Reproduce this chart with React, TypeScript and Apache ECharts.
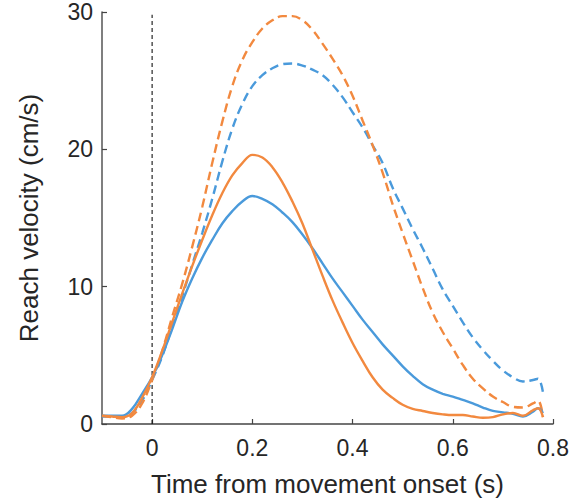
import React, { useEffect, useRef } from "react";
import * as echarts from "echarts";

const time = [
  -0.1, -0.08, -0.06, -0.04, -0.02, 0.0, 0.02, 0.04, 0.06, 0.08, 0.1, 0.12, 0.14, 0.16, 0.18, 0.2,
  0.22, 0.24, 0.26, 0.28, 0.3, 0.32, 0.34, 0.36, 0.38, 0.4, 0.42, 0.44, 0.46, 0.48, 0.5, 0.52,
  0.54, 0.56, 0.58, 0.6, 0.62, 0.64, 0.66, 0.68, 0.7, 0.72, 0.74, 0.76, 0.77, 0.78,
];

const blueSolid = [
  0.6, 0.6, 0.6, 1.1, 2.2, 3.4, 5.0, 6.9, 8.9, 10.6, 12.1, 13.4, 14.6, 15.5, 16.2, 16.6,
  16.4, 16.0, 15.4, 14.7, 13.8, 12.8, 11.7, 10.6, 9.6, 8.6, 7.6, 6.7, 5.8, 5.0, 4.2, 3.5,
  2.9, 2.5, 2.2, 2.0, 1.75, 1.5, 1.2, 0.95, 0.85, 0.75, 0.55, 0.9, 1.15, 0.8,
];

const orangeSolid = [
  0.6, 0.55, 0.5, 0.8, 1.9, 3.4, 5.3, 7.4, 9.5, 11.5, 13.4, 15.2, 16.8, 18.1, 19.0, 19.6,
  19.4, 18.7, 17.6, 16.2, 14.6, 12.7, 10.8, 9.0, 7.4, 5.9, 4.6, 3.4, 2.5, 1.9, 1.4, 1.1,
  0.95, 0.8, 0.7, 0.65, 0.65, 0.55, 0.45, 0.5, 0.7, 0.8, 0.6, 1.0, 1.15, 0.5,
];

const blueDashed = [
  0.55, 0.55, 0.5, 0.8, 1.7, 3.2, 4.9, 7.1, 9.3, 11.6, 13.9, 16.4, 19.1, 21.5, 23.3, 24.6,
  25.4, 25.9, 26.2, 26.25, 26.1, 25.8, 25.4, 24.7, 23.8, 22.7, 21.6, 20.3, 19.0, 17.2, 15.7, 14.2,
  12.8, 11.3, 9.8, 8.6, 7.4, 6.3, 5.4, 4.6, 3.9, 3.4, 3.1, 3.2, 3.3, 2.3,
];

const orangeDashed = [
  0.6, 0.5, 0.4, 0.6, 1.5, 3.2, 5.3, 7.8, 10.2, 12.9, 15.8, 19.0, 22.0, 24.6, 26.5, 27.8,
  28.8, 29.4, 29.7, 29.7, 29.4, 28.7, 27.7, 26.6, 25.4, 23.9, 22.1, 20.3, 18.3, 16.0, 13.9, 11.9,
  9.9, 8.1, 6.7, 5.5, 4.3, 3.3, 2.6, 2.0, 1.6, 1.25, 1.2, 1.5, 1.7, 0.5,
];

const onsetLine = [
  [0, 0],
  [0, 29.8],
];

const xTicks = [0, 0.2, 0.4, 0.6, 0.8];

const BLUE = "#4A9ADB";
const ORANGE = "#F2893F";
const AXIS = "#444444";
const TEXT = "#262626";
const FONT = "'Liberation Sans', Arial, Helvetica, sans-serif";

const pairs = (ys: number[]) => time.map((t, i) => [t, ys[i]]);

export default function App() {
  const ref = useRef<HTMLDivElement>(null);
  useEffect(() => {
    document.body.style.margin = "0";
    if (!ref.current) return;
    const chart = echarts.init(ref.current, undefined, { renderer: "svg" });
    const lineSeries = (data: number[][], color: string, dashed: boolean) => ({
      type: "line",
      data,
      smooth: 0.4,
      showSymbol: false,
      symbol: "none",
      lineStyle: {
        color,
        width: 2.4,
        type: dashed ? [9, 5] : "solid",
      },
      z: 3,
    });
    chart.setOption({
      animation: false,
      backgroundColor: "#ffffff",
      grid: { left: 102, right: 24, top: 12, bottom: 78, containLabel: false },
      xAxis: {
        type: "value",
        min: -0.1,
        max: 0.8,
        name: "Time from movement onset (s)",
        nameLocation: "middle",
        nameGap: 47,
        nameTextStyle: { fontFamily: FONT, fontSize: 26, color: TEXT },
        axisLine: { show: true, onZero: false, lineStyle: { color: AXIS, width: 1.5 } },
        axisTick: { show: true, inside: true, length: 5, customValues: xTicks, lineStyle: { color: AXIS, width: 1.2 } },
        axisLabel: {
          customValues: xTicks,
          fontFamily: FONT,
          fontSize: 23,
          color: TEXT,
          margin: 12,
          formatter: (v: number) => (v === 0 ? "0" : String(Math.round(v * 10) / 10)),
        },
        splitLine: { show: false },
      },
      yAxis: {
        type: "value",
        position: "left",
        min: 0,
        max: 30,
        interval: 10,
        name: "Reach velocity (cm/s)",
        nameLocation: "middle",
        nameGap: 60,
        nameTextStyle: { fontFamily: FONT, fontSize: 26, color: TEXT },
        axisLine: { show: true, onZero: false, lineStyle: { color: "#555555", width: 1.5 } },
        axisTick: { show: true, inside: true, length: 5, lineStyle: { color: AXIS, width: 1.2 } },
        axisLabel: { fontFamily: FONT, fontSize: 23, color: TEXT, margin: 9 },
        splitLine: { show: false },
      },
      series: [
        {
          type: "line",
          data: onsetLine,
          showSymbol: false,
          symbol: "none",
          lineStyle: { color: "#111111", width: 1.1, type: [4, 3] },
          z: 2,
        },
        lineSeries(pairs(blueDashed), BLUE, true),
        lineSeries(pairs(orangeDashed), ORANGE, true),
        lineSeries(pairs(blueSolid), BLUE, false),
        lineSeries(pairs(orangeSolid), ORANGE, false),
      ],
    });
    return () => chart.dispose();
  }, []);
  return <div ref={ref} style={{ width: 577, height: 502 }} />;
}
